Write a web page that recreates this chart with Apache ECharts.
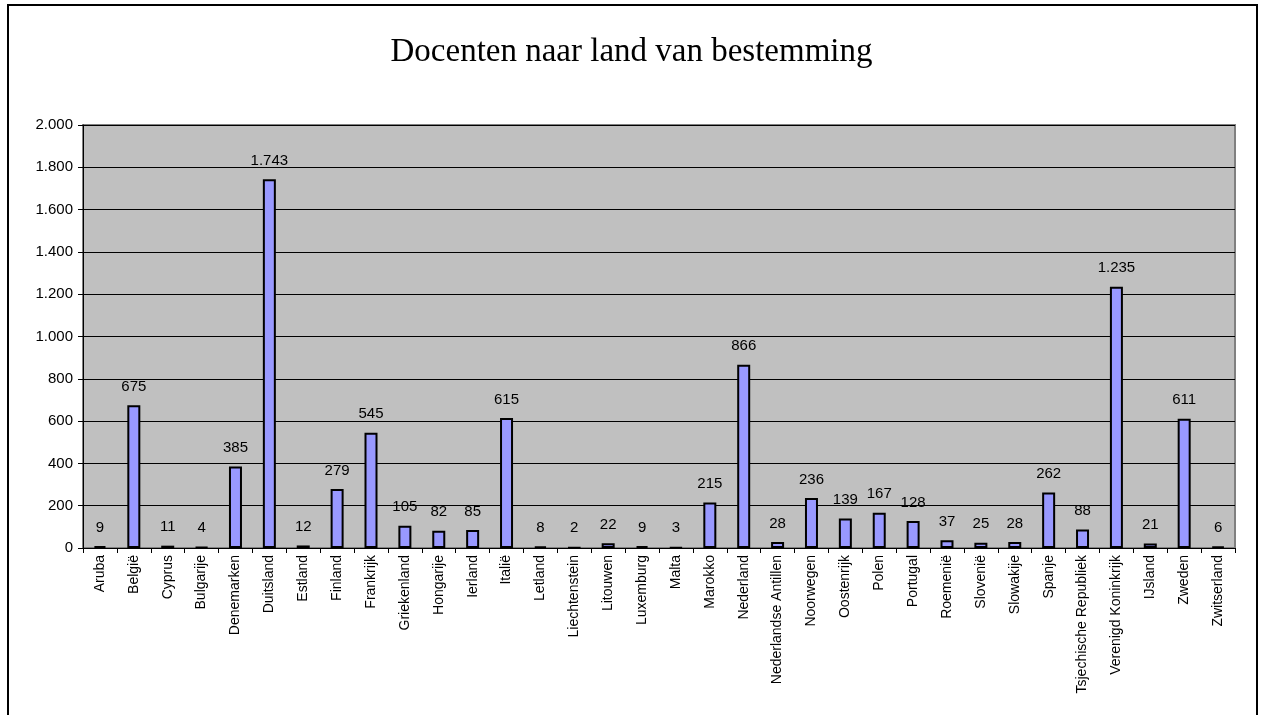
<!DOCTYPE html>
<html><head><meta charset="utf-8">
<script src="https://cdn.jsdelivr.net/npm/echarts@6/dist/echarts.min.js"></script>
<style>html,body{margin:0;padding:0;background:#fff}#c{width:1263px;height:715px}</style>
</head><body><div id="c"></div>
<script>
const titleText = 'Docenten naar land van bestemming';
const categories = ['Aruba','België','Cyprus','Bulgarije','Denemarken','Duitsland','Estland','Finland','Frankrijk','Griekenland','Hongarije','Ierland','Italië','Letland','Liechtenstein','Litouwen','Luxemburg','Malta','Marokko','Nederland','Nederlandse Antillen','Noorwegen','Oostenrijk','Polen','Portugal','Roemenië','Slovenië','Slowakije','Spanje','Tsjechische Republiek','Verenigd Koninkrijk','IJsland','Zweden','Zwitserland'];
const values = [9,675,11,4,385,1743,12,279,545,105,82,85,615,8,2,22,9,3,215,866,28,236,139,167,128,37,25,28,262,88,1235,21,611,6];
const yMin = 0, yMax = 2000, yStep = 200;

function fmt(v){ return String(v).replace(/\B(?=(\d{3})+(?!\d))/g, '.'); }

const chart = echarts.init(document.getElementById('c'));
chart.setOption({
  animation: false,
  backgroundColor: '#fff',
  title: {
    text: titleText, left: 'center', top: 31,
    textStyle: {fontFamily: 'Liberation Serif', fontWeight: 'normal', fontSize: 33, color: '#000'}
  },
  graphic: [{
    type: 'rect', shape: {x: 8, y: 5, width: 1249, height: 720},
    style: {fill: 'none', stroke: '#000', lineWidth: 2}, silent: true, z: 100
  }],
  grid: {
    left: 83, right: 28, top: 125, bottom: 167,
    show: true, backgroundColor: '#C0C0C0', borderColor: '#808080', borderWidth: 2
  },
  xAxis: {
    type: 'category', data: categories,
    axisLine: {show: true, lineStyle: {color: '#000', width: 1}},
    axisTick: {show: true, alignWithLabel: false, length: 5, lineStyle: {color: '#000'}},
    axisLabel: {rotate: 90, interval: 0, margin: 7, color: '#000', fontFamily: 'Liberation Sans', fontSize: 14}
  },
  yAxis: {
    type: 'value', min: yMin, max: yMax, interval: yStep,
    axisLine: {show: true, lineStyle: {color: '#000', width: 1}},
    axisTick: {show: true, length: 5, lineStyle: {color: '#000'}},
    splitLine: {show: true, lineStyle: {color: '#000', width: 1}},
    axisLabel: {color: '#000', fontFamily: 'Liberation Sans', fontSize: 15, margin: 10, formatter: fmt}
  },
  series: [{
    type: 'bar', data: values, barWidth: 13,
    itemStyle: {color: '#9999FF', borderColor: '#000', borderWidth: 2},
    label: {show: true, position: 'top', distance: 11, color: '#000', fontFamily: 'Liberation Sans', fontSize: 15,
      formatter: p => fmt(p.value)}
  }]
});
</script></body></html>
